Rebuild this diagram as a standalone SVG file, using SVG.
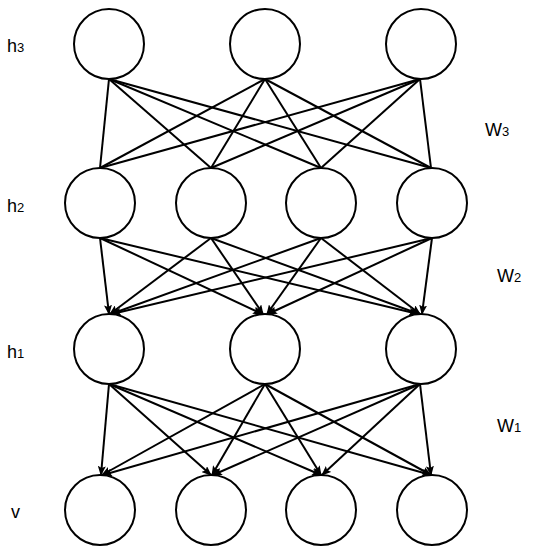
<svg xmlns="http://www.w3.org/2000/svg" width="533" height="550" viewBox="0 0 533 550">
<style>
.n{fill:#fff;stroke:#000;stroke-width:2}
.e{stroke:#000;stroke-width:2;fill:none}
.a{marker-end:url(#ah)}
.t{font-family:"Liberation Sans",Arial,sans-serif;font-size:18px;fill:#000}
.s{font-size:13px}
</style>
<defs>
<marker id="ah" markerUnits="userSpaceOnUse" markerWidth="10" markerHeight="8" refX="9" refY="4" orient="auto">
<path d="M0,0 L10,4 L0,8 L2,4 Z" fill="#000"/>
</marker>
</defs>
<g id="connectors">
<g id="w3">
<line class="e" x1="109" y1="79" x2="100" y2="168"/>
<line class="e" x1="109" y1="79" x2="211" y2="168"/>
<line class="e" x1="109" y1="79" x2="321" y2="168"/>
<line class="e" x1="109" y1="79" x2="431" y2="168"/>
<line class="e" x1="265" y1="79" x2="100" y2="168"/>
<line class="e" x1="265" y1="79" x2="211" y2="168"/>
<line class="e" x1="265" y1="79" x2="321" y2="168"/>
<line class="e" x1="265" y1="79" x2="431" y2="168"/>
<line class="e" x1="420" y1="79" x2="100" y2="168"/>
<line class="e" x1="420" y1="79" x2="211" y2="168"/>
<line class="e" x1="420" y1="79" x2="321" y2="168"/>
<line class="e" x1="420" y1="79" x2="431" y2="168"/>
</g>
<g id="w2">
<line class="e a" x1="100" y1="238" x2="109" y2="314"/>
<line class="e a" x1="100" y1="238" x2="262" y2="314"/>
<line class="e a" x1="100" y1="238" x2="418" y2="314"/>
<line class="e a" x1="211" y1="238" x2="110" y2="314"/>
<line class="e a" x1="211" y1="238" x2="263" y2="314"/>
<line class="e a" x1="211" y1="238" x2="419" y2="314"/>
<line class="e a" x1="321" y1="238" x2="111" y2="314"/>
<line class="e a" x1="321" y1="238" x2="267" y2="314"/>
<line class="e a" x1="321" y1="238" x2="420" y2="314"/>
<line class="e a" x1="432" y1="238" x2="112" y2="314"/>
<line class="e a" x1="432" y1="238" x2="268" y2="314"/>
<line class="e a" x1="432" y1="238" x2="422" y2="314"/>
</g>
<g id="w1">
<line class="e a" x1="109" y1="384" x2="101" y2="475"/>
<line class="e a" x1="109" y1="384" x2="211" y2="475"/>
<line class="e a" x1="109" y1="384" x2="321" y2="475"/>
<line class="e a" x1="109" y1="384" x2="431" y2="475"/>
<line class="e a" x1="265" y1="384" x2="102" y2="475"/>
<line class="e a" x1="265" y1="384" x2="212" y2="475"/>
<line class="e a" x1="265" y1="384" x2="321" y2="475"/>
<line class="e a" x1="265" y1="384" x2="431" y2="475"/>
<line class="e a" x1="420" y1="384" x2="103" y2="475"/>
<line class="e a" x1="420" y1="384" x2="213" y2="475"/>
<line class="e a" x1="420" y1="384" x2="322" y2="475"/>
<line class="e a" x1="420" y1="384" x2="431" y2="475"/>
</g>
</g>
<g id="h3_1"><circle class="n" cx="109" cy="44" r="35"/></g>
<g id="h3_2"><circle class="n" cx="265" cy="44" r="35"/></g>
<g id="h3_3"><circle class="n" cx="421" cy="44" r="35"/></g>
<g id="h2_1"><circle class="n" cx="100" cy="203" r="35"/></g>
<g id="h2_2"><circle class="n" cx="211" cy="203" r="35"/></g>
<g id="h2_3"><circle class="n" cx="321" cy="203" r="35"/></g>
<g id="h2_4"><circle class="n" cx="432" cy="203" r="35"/></g>
<g id="h1_1"><circle class="n" cx="109" cy="349" r="35"/></g>
<g id="h1_2"><circle class="n" cx="265" cy="349" r="35"/></g>
<g id="h1_3"><circle class="n" cx="421" cy="349" r="35"/></g>
<g id="v_1"><circle class="n" cx="100" cy="510" r="35"/></g>
<g id="v_2"><circle class="n" cx="211" cy="510" r="35"/></g>
<g id="v_3"><circle class="n" cx="321" cy="510" r="35"/></g>
<g id="v_4"><circle class="n" cx="432" cy="510" r="35"/></g>
<g id="labels">
<text class="t" x="7" y="52">h<tspan class="s">3</tspan></text>
<text class="t" x="7" y="212">h<tspan class="s">2</tspan></text>
<text class="t" x="7" y="358">h<tspan class="s">1</tspan></text>
<text class="t" x="11" y="518">v</text>
<text class="t" x="485" y="136">W<tspan class="s">3</tspan></text>
<text class="t" x="497" y="282">W<tspan class="s">2</tspan></text>
<text class="t" x="497" y="432">W<tspan class="s">1</tspan></text>
</g>
</svg>
